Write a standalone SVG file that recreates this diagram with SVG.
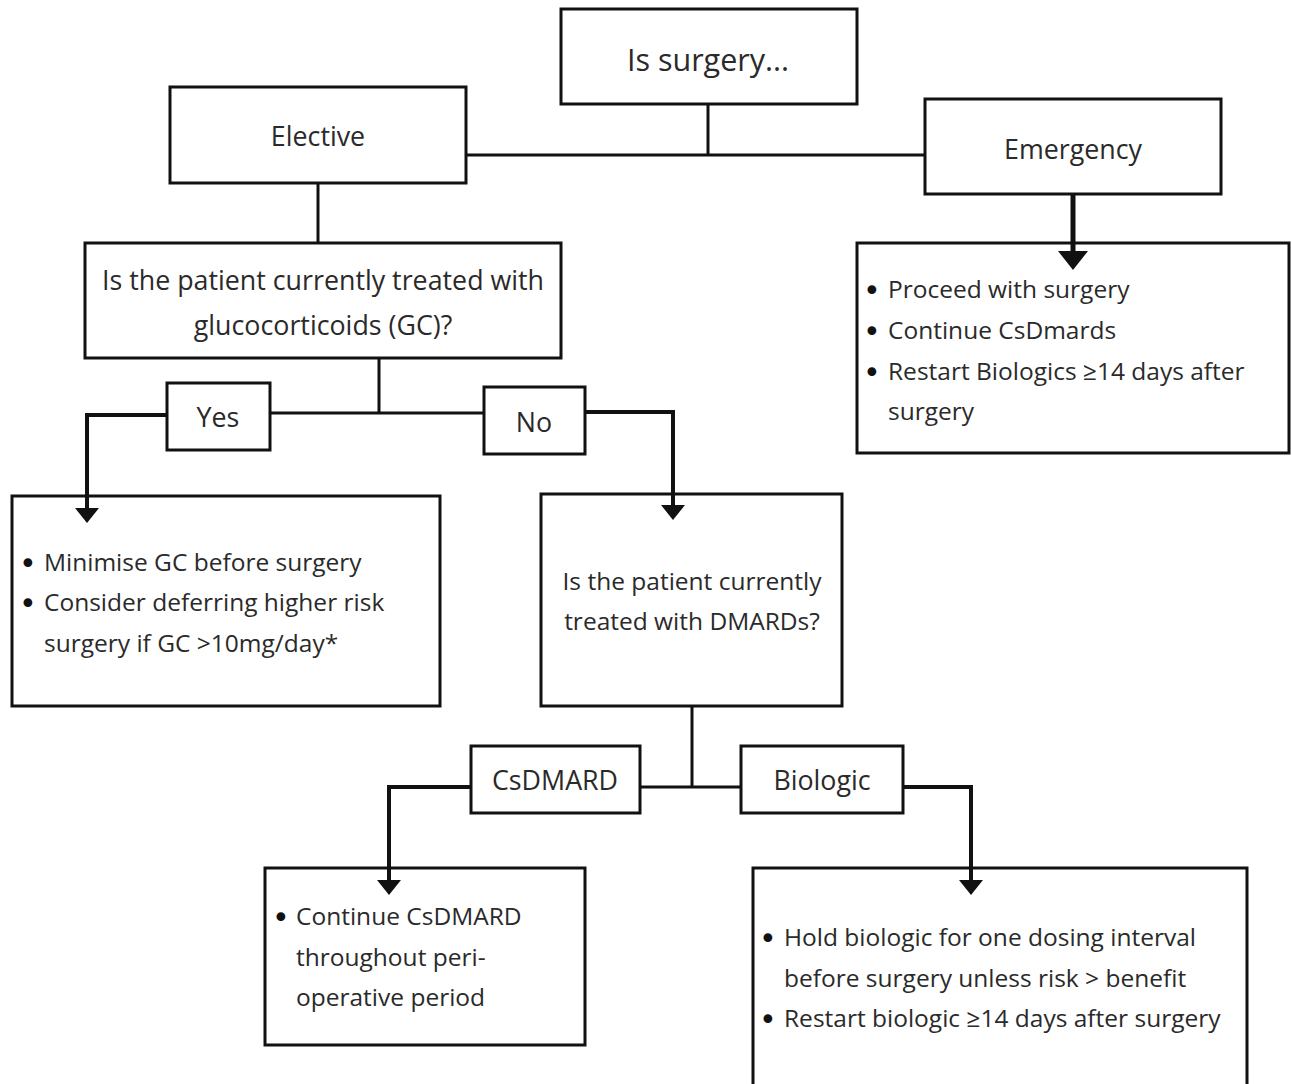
<svg xmlns="http://www.w3.org/2000/svg" width="1292" height="1084" viewBox="0 0 1292 1084">
<defs>
<style>
.box{fill:#fff;stroke:#111;stroke-width:3}
.ln{fill:none;stroke:#111;stroke-width:3}
.ar{fill:none;stroke:#111;stroke-width:4}
.ah{fill:#111}
text{font-family:"Open Sans",Lato,"Liberation Sans",sans-serif;font-size:24.5px;fill:#2a2a2a}
.lb{font-size:26.8px}
.b{font-family:"DejaVu Sans",sans-serif;font-size:30px;fill:#111}
.c{text-anchor:middle}
</style>
</defs>
<rect width="1292" height="1084" fill="#fff"/>
<g id="n-surgery"><rect class="box" x="561" y="9" width="296" height="95"/><text class="c" x="708" y="71" style="font-size:30.5px">Is surgery...</text></g>
<g id="n-elective"><rect class="box" x="170" y="87" width="296" height="96"/><text class="c lb" x="318" y="146">Elective</text></g>
<g id="n-emergency"><rect class="box" x="925" y="99" width="296" height="95"/><text class="c lb" x="1073" y="159">Emergency</text></g>
<g id="n-emerg-out"><rect class="box" x="857" y="243" width="432" height="210"/>
<text class="b" x="863" y="301">•</text><text x="888" y="298">Proceed with surgery</text>
<text class="b" x="863" y="342">•</text><text x="888" y="339">Continue CsDmards</text>
<text class="b" x="863" y="383">•</text><text x="888" y="380">Restart Biologics ≥14 days after</text>
<text x="888" y="420">surgery</text></g>
<g id="n-gc"><rect class="box" x="85" y="243" width="476" height="115"/>
<text class="c lb" x="323" y="290">Is the patient currently treated with</text>
<text class="c lb" x="323" y="335">glucocorticoids (GC)?</text></g>
<g id="n-yes"><rect class="box" x="167" y="383" width="103" height="67"/><text class="c lb" x="218" y="427">Yes</text></g>
<g id="n-no"><rect class="box" x="484" y="387" width="101" height="67"/><text class="c lb" x="534" y="432">No</text></g>
<g id="n-gc-out"><rect class="box" x="12" y="496" width="428" height="210"/>
<text class="b" x="19" y="574">•</text><text x="44" y="571">Minimise GC before surgery</text>
<text class="b" x="19" y="614">•</text><text x="44" y="611">Consider deferring higher risk</text>
<text x="44" y="652">surgery if GC &gt;10mg/day*</text></g>
<g id="n-dmards"><rect class="box" x="541" y="494" width="301" height="212"/>
<text class="c" x="692" y="590">Is the patient currently</text>
<text class="c" x="692" y="630">treated with DMARDs?</text></g>
<g id="n-csdmard"><rect class="box" x="471" y="746" width="169" height="67"/><text class="c lb" x="555" y="790">CsDMARD</text></g>
<g id="n-biologic"><rect class="box" x="741" y="746" width="162" height="67"/><text class="c lb" x="822" y="790">Biologic</text></g>
<g id="n-cs-out"><rect class="box" x="265" y="868" width="320" height="177"/>
<text class="b" x="272" y="928">•</text><text x="296" y="925">Continue CsDMARD</text>
<text x="296" y="966">throughout peri-</text>
<text x="296" y="1006">operative period</text></g>
<g id="n-bio-out"><rect class="box" x="753" y="868" width="494" height="230"/>
<text class="b" x="759" y="949">•</text><text x="784" y="946">Hold biologic for one dosing interval</text>
<text x="784" y="987">before surgery unless risk &gt; benefit</text>
<text class="b" x="759" y="1030">•</text><text x="784" y="1027">Restart biologic ≥14 days after surgery</text></g>
<g id="connectors">
<path class="ln" d="M708 104V155M466 155H925"/>
<path class="ln" d="M318 183V243"/>
<path class="ln" d="M379 358V413M270 413H484"/>
<path class="ar" d="M167 415H87V510"/>
<path class="ar" d="M585 412H673V506"/>
<path class="ln" d="M692 706V787M640 787H741"/>
<path class="ar" d="M471 787H389V881"/>
<path class="ar" d="M903 787H971V881"/>
<path fill="none" stroke="#111" stroke-width="5" d="M1073 194V253"/>
<path class="ah" d="M1058 251H1088L1073 270Z"/>
<path class="ah" d="M75 508H99L87 523Z"/>
<path class="ah" d="M661 505H685L673 520Z"/>
<path class="ah" d="M377 880H401L389 895Z"/>
<path class="ah" d="M959 880H983L971 895Z"/>
</g>
</svg>
